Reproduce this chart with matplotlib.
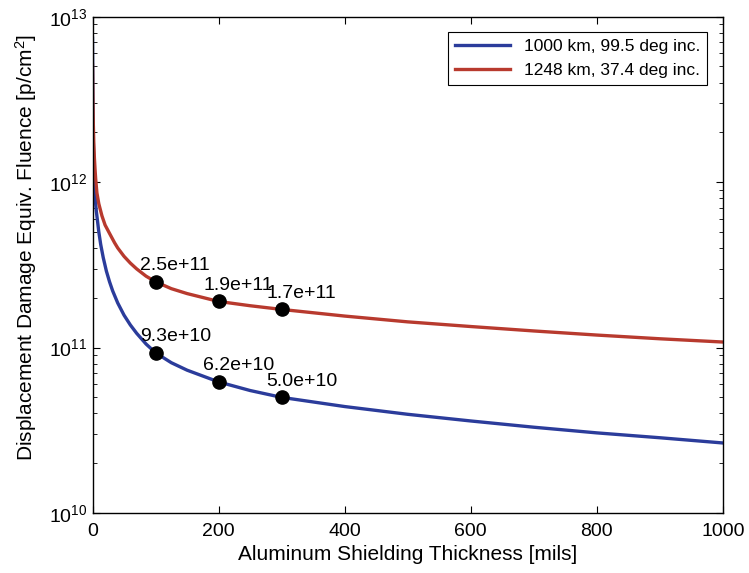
import numpy as np
import matplotlib
matplotlib.use("Agg")
import matplotlib.pyplot as plt
from matplotlib.ticker import LogLocator, NullFormatter

plt.rcParams.update({
    "font.family": ["Liberation Sans", "DejaVu Sans"],
    "mathtext.fontset": "custom",
    "mathtext.rm": "Liberation Sans",
    "mathtext.it": "Liberation Sans",
})

# --- data ---
thickness_blue = [0, 0.5, 1, 2, 3, 4, 5, 6, 8, 10, 13, 17, 22, 27, 32, 40, 50, 60,
                  70, 85, 100, 125, 150, 200, 250, 300, 400, 500, 600, 700, 800,
                  900, 1000]
fluence_blue = [7.4e12, 3.2e12, 2.0e12, 1.3e12, 1.0e12, 8.4e11, 7.4e11, 6.7e11,
                5.8e11, 5.0e11, 4.2e11, 3.5e11, 2.9e11, 2.5e11, 2.2e11, 1.86e11,
                1.57e11, 1.37e11, 1.22e11, 1.05e11, 9.3e10, 8.1e10, 7.3e10, 6.2e10,
                5.5e10, 5.0e10, 4.4e10, 3.95e10, 3.6e10, 3.3e10, 3.05e10, 2.85e10,
                2.65e10]

thickness_red = [0, 0.5, 1, 2, 3, 4, 5, 7, 10, 15, 20, 27, 35, 40, 50, 60, 70, 85,
                 100, 125, 150, 200, 250, 300, 400, 500, 600, 700, 800, 900, 1000]
fluence_red = [5.1e12, 3.3e12, 2.5e12, 1.75e12, 1.4e12, 1.2e12, 1.05e12, 8.6e11,
               7.4e11, 6.25e11, 5.5e11, 4.9e11, 4.3e11, 4.0e11, 3.56e11, 3.24e11,
               2.99e11, 2.7e11, 2.5e11, 2.27e11, 2.12e11, 1.9e11, 1.79e11, 1.7e11,
               1.55e11, 1.43e11, 1.34e11, 1.26e11, 1.19e11, 1.13e11, 1.08e11]

mark_x = [100, 200, 300]
mark_blue = [9.3e10, 6.2e10, 5.0e10]
mark_red = [2.5e11, 1.9e11, 1.7e11]

labels = ["1000 km, 99.5 deg inc.", "1248 km, 37.4 deg inc."]
BLUE = "#2B3C9B"
RED = "#B83A2E"

fig = plt.figure(figsize=(7.49, 5.73), dpi=100)
ax = fig.add_axes([0.1235, 0.1047, 0.8418, 0.8662])

ax.plot(thickness_blue, fluence_blue, color=BLUE, lw=2.4, label=labels[0])
ax.plot(thickness_red, fluence_red, color=RED, lw=2.4, label=labels[1])

for xs, ys in [(mark_x, mark_red), (mark_x, mark_blue)]:
    ax.plot(xs, ys, "o", color="black", ms=9.5, zorder=5)
    for x, y in zip(xs, ys):
        ax.annotate(f"{y:.1e}", (x, y), xytext=(-11, 8.5), textcoords="offset points",
                    ha="left", va="baseline", fontsize=14)

ax.set_yscale("log")
ax.set_xlim(0, 1000)
ax.set_ylim(1e10, 1e13)
ax.set_xticks(range(0, 1001, 200))
ax.yaxis.set_major_locator(LogLocator(base=10, numticks=10))
ax.yaxis.set_minor_locator(LogLocator(base=10, subs=np.arange(2, 10), numticks=10))
ax.yaxis.set_minor_formatter(NullFormatter())
ax.tick_params(which="both", direction="in", top=True, right=True, labelsize=14)
ax.tick_params(axis="x", pad=7.5)
ax.tick_params(which="major", length=5)
ax.tick_params(which="minor", length=3)
for s in ax.spines.values():
    s.set_linewidth(1.0)

ax.set_xlabel("Aluminum Shielding Thickness [mils]", fontsize=15, labelpad=3)
ax.set_ylabel("Displacement Damage Equiv. Fluence [p/cm$^2$]", fontsize=15)
ax.yaxis.set_label_coords(-0.085, 0.535)

leg = ax.legend(loc="upper right", fontsize=12.5, fancybox=False, edgecolor="black",
                framealpha=1, handlelength=3.2, borderaxespad=0.9)
leg.get_frame().set_linewidth(0.8)

fig.savefig("out.png", dpi=100)
